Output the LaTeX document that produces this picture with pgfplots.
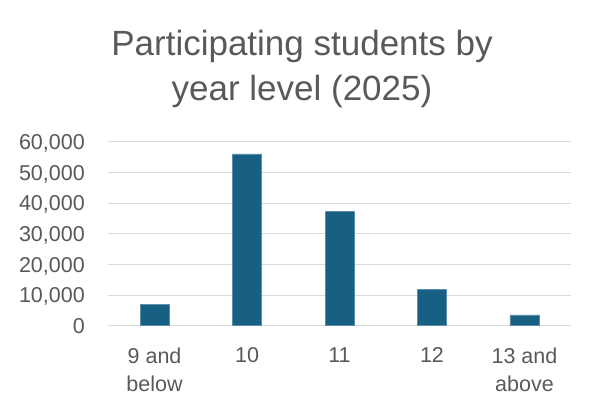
\documentclass[border=0pt]{standalone}
\usepackage{pgfplots}
\pgfplotsset{compat=1.18}
\usepackage{fontspec}
\setmainfont{Liberation Sans}
\definecolor{barc}{HTML}{175F83}
\definecolor{txt}{HTML}{595959}
\definecolor{gridc}{HTML}{D9D9D9}
\begin{document}
\begin{tikzpicture}[x=1bp,y=1bp]
\path[use as bounding box] (0,0) rectangle (600,415);
\node[anchor=base,text=txt,font=\fontsize{35bp}{40bp}\selectfont,inner sep=0] at (302,360) {Participating students by};
\node[anchor=base,text=txt,font=\fontsize{35bp}{40bp}\selectfont,inner sep=0] at (302,315) {year level (2025)};
\begin{axis}[
  at={(108.3bp,89.3bp)}, anchor=south west,
  scale only axis, width=462.4bp, height=184bp,
  xmin=-0.5, xmax=4.5, ymin=0, ymax=60000,
  ytick={0,10000,...,60000},
  xtick={0,1,2,3,4},
  xticklabels={{9 and\\below},{10},{11},{12},{13 and\\above}},
  axis line style={draw=none},
  major tick length=0,
  xmajorgrids=false,
  ymajorgrids, grid style={draw=gridc, line width=1bp},
  scaled y ticks=false,
  /pgf/number format/assume math mode=true,
  /pgf/number format/fixed,
  /pgf/number format/1000 sep={,},
  tick label style={text=txt, font=\fontsize{21.5bp}{28bp}\selectfont, inner sep=0pt},
  yticklabel style={anchor=base east, xshift=-23.3bp, yshift=-7.7bp},
  xticklabel style={align=center, anchor=north, yshift=-21.6bp},
  ybar, bar width=29bp,
]
\addplot[fill=barc, draw=barc!70!white, line width=0.5bp] coordinates {(0,7000) (1,56000) (2,37400) (3,11850) (4,3500)};
\end{axis}
\end{tikzpicture}
\end{document}
